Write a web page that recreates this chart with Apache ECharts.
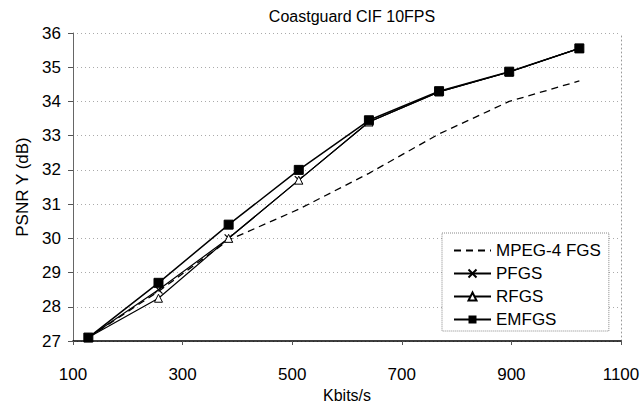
<!DOCTYPE html>
<html>
<head>
<meta charset="utf-8">
<script src="https://cdn.jsdelivr.net/npm/echarts@6/dist/echarts.min.js"></script>
<style>
	html, body { margin: 0; padding: 0; background: #fff; }
	#chart { width: 642px; height: 404px; }
</style>
</head>
<body>
<div id="chart"></div>
<script>
const kbits = [128, 256, 384, 512, 640, 768, 896, 1024]
const mpeg4 = [27.1, 28.45, 29.95, 30.85, 31.9, 33.05, 34.0, 34.6]
const pfgs = [27.1, 28.5, 30.0, 31.7, 33.4, 34.28, 34.86, 35.55]
const rfgs = [27.1, 28.25, 30.0, 31.7, 33.4, 34.28, 34.86, 35.55]
const emfgs = [27.1, 28.7, 30.4, 32.0, 33.45, 34.3, 34.87, 35.55]

const font = '"Liberation Sans", Arial, sans-serif'
const pair = (ys) => kbits.map((x, i) => [x, ys[i]])

const myChart = echarts.init(document.getElementById('chart'), null, { renderer: 'svg' })

let option = {
	animation: false,
	backgroundColor: '#fff',
	textStyle: { fontFamily: font, color: '#000' },
	title: {
		text: 'Coastguard CIF 10FPS',
		left: 347,
		top: 3,
		textAlign: 'center',
		textStyle: { fontFamily: font, fontSize: 16, fontWeight: 'normal', color: '#000' },
	},
	grid: { left: 73, right: 21, top: 33, bottom: 63, outerBoundsMode: 'none' },
	legend: {
		orient: 'vertical',
		left: 442,
		top: 233,
		padding: [9, 8, 3, 11],
		itemWidth: 37,
		itemHeight: 10,
		itemGap: 6,
		borderColor: '#888',
		borderWidth: 1,
		borderType: 'dotted',
		backgroundColor: '#fff',
		textStyle: { fontFamily: font, fontSize: 17, color: '#000' },
		data: [
			{ name: 'MPEG-4 FGS', itemStyle: { opacity: 0 } },
			'PFGS',
			'RFGS',
			'EMFGS',
		],
	},
	xAxis: {
		type: 'value',
		min: 100,
		max: 1100,
		interval: 200,
		name: 'Kbits/s',
		nameLocation: 'middle',
		nameGap: 38,
		nameTextStyle: { fontFamily: font, fontSize: 16, color: '#000' },
		axisLine: { lineStyle: { color: '#000', width: 1.5 } },
		axisTick: { show: true, length: 4, lineStyle: { color: '#555' } },
		axisLabel: { fontFamily: font, fontSize: 17, color: '#000', margin: 25, formatter: (v) => String(v) },
		splitLine: { show: false },
	},
	yAxis: [
		{
			type: 'value',
			min: 27,
			max: 36,
			interval: 1,
			name: 'PSNR Y (dB)',
			nameLocation: 'middle',
			nameGap: 42,
			nameTextStyle: { fontFamily: font, fontSize: 17, color: '#000' },
			axisLine: { show: true, lineStyle: { color: '#666' } },
			axisTick: { show: true, length: 5, lineStyle: { color: '#555' } },
			axisLabel: { fontFamily: font, fontSize: 17, color: '#000', margin: 12 },
			splitLine: { show: true, lineStyle: { color: '#aaa', type: [1, 3] } },
		},
		{
			type: 'value',
			min: 27,
			max: 36,
			interval: 1,
			position: 'right',
			axisLine: { show: true, lineStyle: { color: '#999', type: [1, 3] } },
			axisTick: { show: false },
			axisLabel: { show: false },
			splitLine: { show: false },
		},
	],
	series: [
		{
			name: 'MPEG-4 FGS',
			type: 'line',
			data: pair(mpeg4),
			symbol: 'none',
			itemStyle: { color: '#000' },
			lineStyle: { color: '#000', width: 1.3, type: [7, 5] },
		},
		{
			name: 'PFGS',
			type: 'line',
			data: pair(pfgs),
			symbol: 'path://M0,0L10,10M10,0L0,10',
			symbolSize: 8,
			itemStyle: { color: '#000', borderColor: '#000', borderWidth: 1.2 },
			lineStyle: { color: '#000', width: 1.2 },
		},
		{
			name: 'RFGS',
			type: 'line',
			data: pair(rfgs),
			symbol: 'triangle',
			symbolSize: 8,
			itemStyle: { color: '#fff', borderColor: '#000', borderWidth: 1 },
			lineStyle: { color: '#000', width: 1.2 },
		},
		{
			name: 'EMFGS',
			type: 'line',
			data: pair(emfgs),
			symbol: 'rect',
			symbolSize: 9,
			itemStyle: { color: '#000', borderColor: '#000' },
			lineStyle: { color: '#000', width: 1.5 },
		},
	],
}
myChart.setOption(option)

window.addEventListener('resize', () => {
	myChart.resize()
})
</script>
</body>
</html>
